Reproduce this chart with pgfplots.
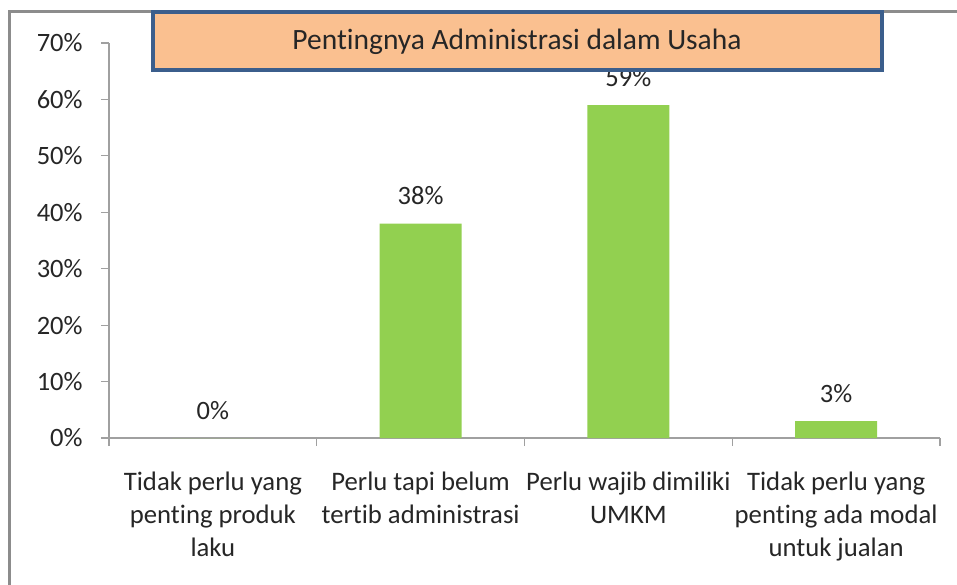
\documentclass[border=0pt]{standalone}
\usepackage{pgfplots}
\pgfplotsset{compat=1.18}
\usepackage{fontspec}
\setmainfont{Carlito}[Ligatures=NoCommon]
\definecolor{barGreen}{RGB}{146,208,80}
\definecolor{titleFill}{RGB}{250,192,144}
\definecolor{titleBorder}{RGB}{59,94,140}
\definecolor{frameGray}{RGB}{140,140,140}
\definecolor{axGray}{RGB}{160,160,160}
\definecolor{txt}{RGB}{38,38,38}
\begin{document}
\begin{tikzpicture}
\path[use as bounding box] (0,0) rectangle (478.5bp,292.5bp);
\draw[frameGray, line width=1.5bp] (4.5bp,0) -- (4.5bp,286.5bp) -- (478.5bp,286.5bp);
\begin{axis}[
  at={(54.5bp,73.5bp)}, anchor=south west,
  scale only axis, width=415.5bp, height=197.5bp,
  xmin=-0.5, xmax=3.5, ymin=0, ymax=70,
  axis x line=bottom, axis y line=left,
  axis line style={-, draw=axGray, line width=0.6bp},
  ytick={0,10,...,70},
  yticklabels={0\%,10\%,20\%,30\%,40\%,50\%,60\%,70\%},
  xtick={0,1,2,3},
  xticklabels={{Tidak perlu yang\\penting produk\\laku},{Perlu tapi belum\\tertib administrasi},{Perlu wajib dimiliki\\UMKM},{Tidak perlu yang\\penting ada modal\\untuk jualan}},
  minor xtick={-0.5,0.5,1.5,2.5,3.5},
  tick align=outside,
  major tick length=4bp, minor tick length=4bp,
  major x tick style={draw=none},
  every tick/.style={draw=axGray, line width=0.6bp},
  minor tick style={draw=axGray, line width=0.6bp},
  major y tick style={draw=axGray, line width=0.6bp},
  yticklabel style={font=\fontsize{13.3}{16}\selectfont, text=txt, inner sep=0pt, anchor=east, xshift=-9bp},
  xticklabel style={font=\fontsize{13.4}{16.4}\selectfont, text=txt, align=center, inner sep=0pt, anchor=north, yshift=-13bp},
  ybar, bar width=41bp,
  nodes near coords={\pgfmathprintnumber[assume math mode=true]{\pgfplotspointmeta}\%},
  every node near coord/.append style={font=\fontsize{13.3}{16}\selectfont, text=txt, inner sep=0pt, anchor=south, yshift=9bp},
  clip=false,
]
\addplot[fill=barGreen, draw=none] coordinates {(0,0) (1,38) (2,59) (3,3)};
\end{axis}
\draw[titleBorder, line width=2bp, fill=titleFill] (76.5bp,257.5bp) rectangle (441bp,286.5bp);
\node[anchor=base, text=txt, font=\fontsize{14.8}{18}\selectfont, inner sep=0pt] at (258.5bp,267.5bp) {Pentingnya Administrasi dalam Usaha};
\end{tikzpicture}
\end{document}
